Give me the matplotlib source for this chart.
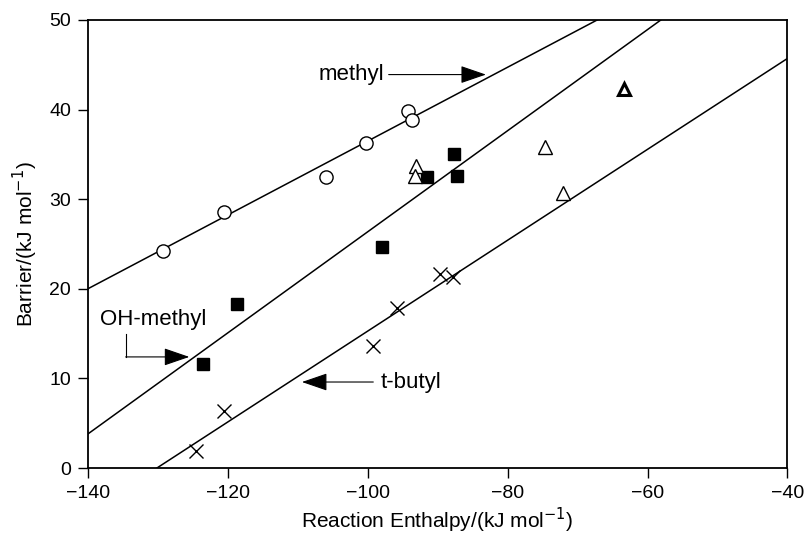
import matplotlib
matplotlib.use("Agg")
import matplotlib.pyplot as plt
import numpy as np

plt.rcParams['font.family'] = ['Liberation Sans', 'DejaVu Sans']

# Data
methyl_x = [-129.3, -120.6, -106.0, -100.2, -94.3, -93.6]
methyl_y = [24.2, 28.6, 32.5, 36.3, 39.8, 38.8]
ohmethyl_x = [-123.6, -118.7, -97.9, -91.5, -87.7, -87.2]
ohmethyl_y = [11.6, 18.3, 24.7, 32.5, 35.0, 32.6]
tri_x = [-93.1, -93.3, -74.7, -72.1]
tri_y = [33.7, 32.6, 35.8, 30.7]
tri_bold_x = [-63.3]
tri_bold_y = [42.3]
tbutyl_x = [-124.5, -120.5, -99.2, -95.8, -89.6, -87.8]
tbutyl_y = [1.9, 6.4, 13.6, 17.9, 21.7, 21.3]

# Fit lines (value at x=-140, slope)
line_methyl = (20.0, 0.412)
line_ohmethyl = (3.8, 0.564)
line_tbutyl = (-5.0, 0.507)

xticks = [-140, -120, -100, -80, -60, -40]
yticks = [0, 10, 20, 30, 40, 50]
xticklabels = ['\u2212140', '\u2212120', '\u2212100', '\u221280', '\u221260', '\u221240']

fig = plt.figure(figsize=(8.06, 5.38), dpi=100)
ax = fig.add_axes([0.109, 0.130, 0.868, 0.833])

xx = np.array([-140, -40])
for b, m in (line_methyl, line_ohmethyl, line_tbutyl):
    ax.plot(xx, b + m * (xx + 140), color='black', lw=1.1, zorder=2)

ax.plot(methyl_x, methyl_y, 'o', ms=9.5, mfc='white', mec='black', mew=1.0, ls='none', zorder=3)
ax.plot(ohmethyl_x, ohmethyl_y, 's', ms=8.5, mfc='black', mec='black', ls='none', zorder=3)
ax.plot(tri_x, tri_y, '^', ms=9.5, mfc='white', mec='black', mew=1.0, ls='none', zorder=3)
ax.plot(tri_bold_x, tri_bold_y, '^', ms=9, mfc='white', mec='black', mew=2.2, ls='none', zorder=3)
ax.plot(tbutyl_x, tbutyl_y, 'x', ms=9.5, mec='black', mew=1.0, ls='none', zorder=3)

ax.set_xlim(-140, -40)
ax.set_ylim(0, 50)
ax.set_xticks(xticks)
ax.set_yticks(yticks)
ax.set_xticklabels(xticklabels)
ax.tick_params(direction='out', length=7, width=1, labelsize=14, pad=5)
for s in ax.spines.values():
    s.set_linewidth(1.3)

ax.set_xlabel('Reaction Enthalpy/(kJ mol$^{-1}$)', fontsize=15, labelpad=3)
ax.set_ylabel('Barrier/(kJ mol$^{-1}$)', fontsize=15, labelpad=7)

arrowprops = dict(arrowstyle='-|>,head_length=1.6,head_width=0.55', color='black', lw=0.8,
                  shrinkA=0, shrinkB=0, mutation_scale=10)
# methyl
ax.text(-97.6, 43.9, 'methyl', fontsize=16, ha='right', va='center')
ax.annotate('', xy=(-83.1, 43.9), xytext=(-97.0, 43.9), arrowprops=arrowprops)
# t-butyl
ax.text(-98.2, 9.6, 't-butyl', fontsize=16, ha='left', va='center')
ax.annotate('', xy=(-109.4, 9.6), xytext=(-99.2, 9.6), arrowprops=arrowprops)
# OH-methyl
ax.text(-138.3, 16.6, 'OH-methyl', fontsize=16, ha='left', va='center')
ax.plot([-134.6, -134.6], [15.0, 12.4], color='black', lw=0.8)
ax.annotate('', xy=(-125.5, 12.4), xytext=(-134.6, 12.4), arrowprops=arrowprops)

fig.savefig('out.png', dpi=100)
